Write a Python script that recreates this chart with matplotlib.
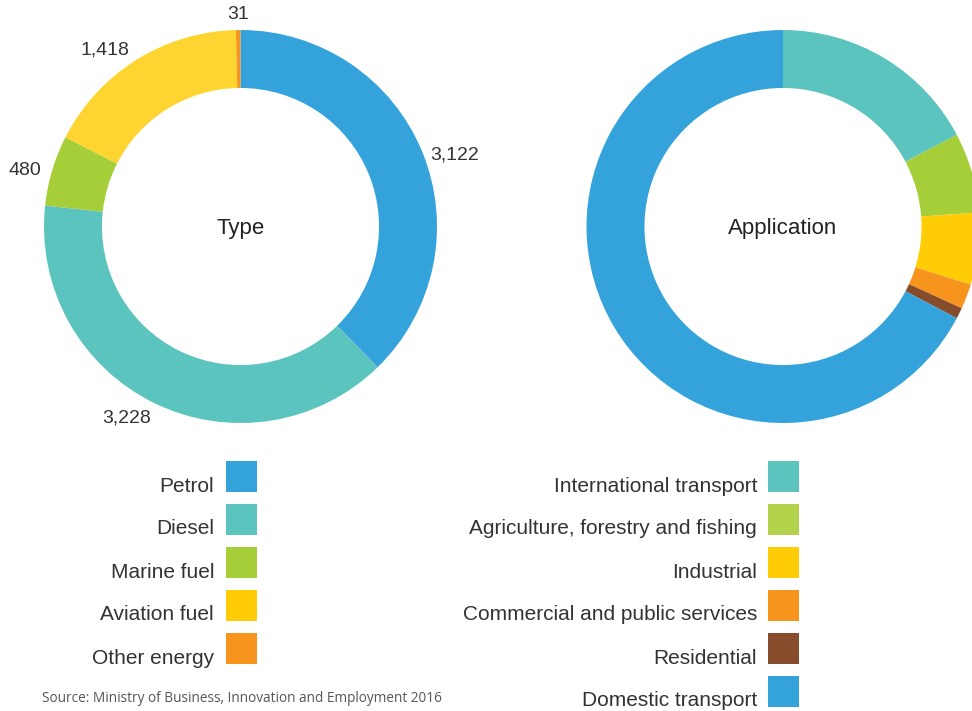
import matplotlib
matplotlib.use("Agg")
import matplotlib.pyplot as plt
from matplotlib.patches import Rectangle
import numpy as np

# ---- data ----
type_labels = ["Petrol", "Diesel", "Marine fuel", "Aviation fuel", "Other energy"]
type_values = [3122, 3228, 480, 1418, 31]
type_value_text = ["3,122", "3,228", "480", "1,418", "31"]
type_colors = ["#34a3db", "#5bc4bf", "#a6ce39", "#fed530", "#f7941d"]
type_legend_colors = ["#34a3db", "#5bc4bf", "#a6ce39", "#ffcc05", "#f7941d"]

app_labels = ["International transport", "Agriculture, forestry and fishing", "Industrial",
              "Commercial and public services", "Residential", "Domestic transport"]
app_values = [1430, 545, 490, 170, 75, 5569]
app_colors = ["#5bc4bf", "#a6ce39", "#ffcc05", "#f7941d", "#874c2c", "#34a3db"]
app_legend_colors = ["#5bc4bf", "#b1d24a", "#ffcc05", "#f7941d", "#874c2c", "#34a3db"]

source_text = "Source: Ministry of Business, Innovation and Employment 2016"

W, H = 972, 711
plt.rcParams["font.family"] = ["Liberation Sans", "DejaVu Sans"]
fig = plt.figure(figsize=(W / 100, H / 100), dpi=100)

R = 196.5
ring = 0.295


def donut(cx, cy, values, colors, title):
    ax = fig.add_axes([(cx - R) / W, (H - cy - R) / H, 2 * R / W, 2 * R / H])
    wedges, _ = ax.pie(values, colors=colors, startangle=90, counterclock=False,
                       radius=1.0, wedgeprops=dict(width=ring, linewidth=0))
    ax.set_xlim(-1, 1)
    ax.set_ylim(-1, 1)
    ax.set_aspect("equal")
    ax.axis("off")
    for w in wedges:
        w.set_clip_on(False)
    ax.text(0, -0.012, title, ha="center", va="center", fontsize=16, color="#222222")
    return ax, wedges


axL, wL = donut(240.5, 226.5, type_values, type_colors, "Type")
axR, wR = donut(783, 226.5, app_values, app_colors, "Application")

# value labels around left donut (placement: radius, angle nudge in degrees)
label_radius = [1.15, 1.135, 1.135, 1.135, 1.08]
label_nudge = [3.7, 4.7, -1.9, -5.3, 0.0]
total = sum(type_values)
cum = 0
for v, txt, rr, dd in zip(type_values, type_value_text, label_radius, label_nudge):
    mid = cum + v / 2
    cum += v
    ang = np.deg2rad(90 - (360 * mid / total + dd))
    axL.text(np.cos(ang) * rr, np.sin(ang) * rr, txt, ha="center", va="center",
             fontsize=14, color="#333333", clip_on=False)

# overlay axes in pixel coordinates for legends
ov = fig.add_axes([0, 0, 1, 1])
ov.set_xlim(0, W)
ov.set_ylim(H, 0)
ov.axis("off")

sq = 31
step = 43


def legend(labels, colors, sq_x, text_x, top):
    for i, (lab, col) in enumerate(zip(labels, colors)):
        y0 = top + i * step
        ov.add_patch(Rectangle((sq_x, y0), sq, sq, facecolor=col, edgecolor="none"))
        ov.text(text_x, y0 + sq - 0.5, lab, ha="right", va="baseline", fontsize=15,
                color="#333333")


legend(type_labels, type_legend_colors, 225.5, 214, 461)
legend(app_labels, app_legend_colors, 768, 757, 461)

ov.text(42, 698, source_text, ha="left", va="center", fontsize=9.8, color="#555555",
        family=["Open Sans", "DejaVu Sans"])

fig.savefig("out.png", dpi=100)
